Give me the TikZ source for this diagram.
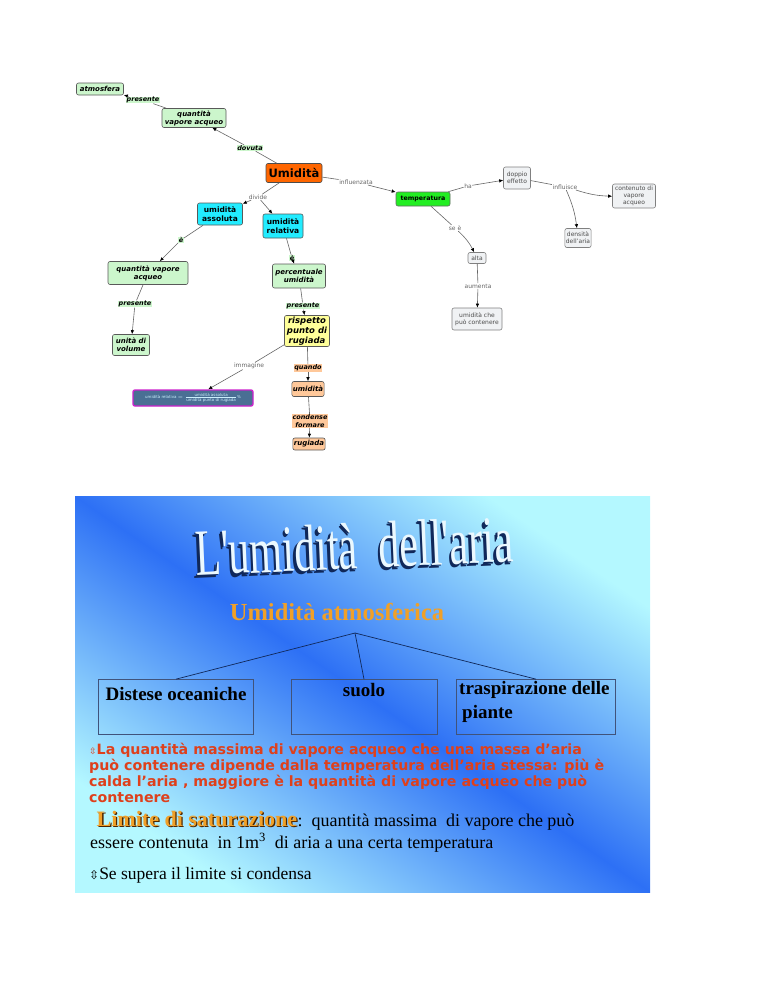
\documentclass[tikz,border=0pt]{standalone}
\usepackage{fontspec}
\usepackage{graphicx}
\setmainfont{Liberation Serif}
\setsansfont{DejaVu Sans}
\newfontfamily\bulletfont{DejaVu Sans}
\newfontfamily\titlefont{Liberation Serif}[Ligatures=TeXOff]
\usetikzlibrary{arrows.meta,positioning}

\definecolor{mapgreen}{RGB}{204,246,204}
\definecolor{mapcyan}{RGB}{34,236,255}
\definecolor{maporange}{RGB}{255,102,0}
\definecolor{maplime}{RGB}{34,238,34}
\definecolor{mapgray}{RGB}{240,242,244}
\definecolor{mapyellow}{RGB}{255,255,153}
\definecolor{mappeach}{RGB}{255,200,154}
\definecolor{mapslate}{RGB}{74,111,148}
\definecolor{mapmagenta}{RGB}{204,34,204}
\definecolor{slideblue}{RGB}{45,112,245}
\definecolor{slidelight}{RGB}{180,248,255}
\definecolor{titlenavy}{RGB}{16,40,90}
\definecolor{headorange}{RGB}{240,160,40}
\definecolor{notered}{RGB}{222,64,28}

% word art: navy extrusion under a light face, all in one box
\newcommand{\artlayer}[3]{\makebox[0pt][l]{\hspace{#1}\raisebox{#2}{\textcolor{titlenavy}{#3}}}}
\newcommand{\wordart}[1]{\artlayer{-4pt}{-3pt}{#1}\artlayer{-2pt}{-1.5pt}{#1}\textcolor{white!92!cyan}{#1}}

\tikzset{
  concept/.style={draw=gray!70!black, rounded corners=2pt, line width=0.6pt, align=center, inner sep=1pt,
    font=\sffamily\bfseries\itshape\fontsize{7}{8}\selectfont},
  greenbox/.style={concept, fill=mapgreen},
  cyanbox/.style={concept, fill=mapcyan, font=\sffamily\bfseries\fontsize{7.5}{9}\selectfont},
  graybox/.style={concept, fill=mapgray, draw=gray, font=\sffamily\fontsize{6}{7}\selectfont, text=black!70},
  peachbox/.style={concept, fill=mappeach},
  link/.style={inner sep=0.5pt, font=\sffamily\fontsize{6}{7}\selectfont, text=black!60},
  greenlink/.style={link, fill=mapgreen, text=black, font=\sffamily\bfseries\itshape\fontsize{6.5}{7.5}\selectfont},
  peachlink/.style={greenlink, fill=mappeach, align=center},
  conn/.style={draw=gray!80!black, line width=0.6pt},
  arr/.style={conn, -{Latex[length=4pt,width=3.5pt,color=black]}},
  slidebox/.style={draw=titlenavy!80, line width=0.7pt, minimum height=55pt},
  boxtext/.style={font=\bfseries\fontsize{19}{21}\selectfont, text=black, inner sep=0pt},
  titletext/.style={rotate=2.5, anchor=base, inner sep=0pt, text depth=0pt,
    font=\titlefont\fontsize{66}{66}\selectfont},
}

\begin{document}
\begin{tikzpicture}[x=1pt,y=-1pt]
\useasboundingbox (0,0) rectangle (768,994);

% concept map: upper branch
\node[greenbox, minimum width=47pt, minimum height=12pt] (atm) at (100,89) {atmosfera};
\node[greenlink] (lpres1) at (143,100) {presente};
\node[greenbox, minimum width=64pt, minimum height=19pt] (qva1) at (194,118) {quantità\\vapore acqueo};
\node[greenlink] (ldov) at (250,148) {dovuta};
\node[concept, fill=maporange, draw=black!70, font=\sffamily\bfseries\fontsize{11.5}{13}\selectfont,
  minimum width=56pt, minimum height=19pt] (umi) at (294,173) {Umidità};

% temperatura branch
\node[link] (linf) at (356,182) {influenzata};
\node[concept, fill=maplime, draw=black!60, font=\sffamily\bfseries\fontsize{6.3}{7.5}\selectfont,
  minimum width=54pt, minimum height=14pt] (temp) at (423,199) {temperatura};
\node[link] (lha) at (468,186) {ha};
\node[graybox, minimum width=27pt, minimum height=22pt] (doppio) at (517,178) {doppio\\effetto};
\node[link] (linfl) at (565,187) {influisce};
\node[graybox, minimum width=43pt, minimum height=24pt] (cont) at (634,196) {contenuto di\\vapore\\acqueo};
\node[graybox, minimum width=25pt, minimum height=19pt] (dens) at (578,238) {densità\\dell'aria};
\node[link] (lse) at (455,228) {se è};
\node[graybox, minimum width=18pt, minimum height=11pt] (alta) at (477,258) {alta};
\node[link] (laum) at (478,286) {aumenta};
\node[graybox, minimum width=50pt, minimum height=22pt] (ucpc) at (477,319) {umidità che\\può contenere};

% assoluta / relativa
\node[link] (ldiv) at (258,197) {divide};
\node[cyanbox, minimum width=45pt, minimum height=22pt] (uass) at (220,214) {umidità\\assoluta};
\node[cyanbox, minimum width=40pt, minimum height=24pt] (urel) at (283,226) {umidità\\relativa};
\node[greenlink] (le1) at (181,240) {è};
\node[greenbox, minimum width=80pt, minimum height=23pt] (qva2) at (148,273) {quantità vapore\\acqueo};
\node[greenlink] (lpres2) at (135,304) {presente};
\node[greenbox, minimum width=37pt, minimum height=21pt] (uvol) at (131,345) {unità di\\volume};
\node[greenlink] (le2) at (292,258) {è};
\node[greenbox, minimum width=53pt, minimum height=24pt] (perc) at (299,276) {percentuale\\umidità};
\node[greenlink] (lpres3) at (303,306) {presente};
\node[concept, fill=mapyellow, font=\sffamily\bfseries\itshape\fontsize{8.5}{10}\selectfont,
  minimum width=45pt, minimum height=31pt] (risp) at (307,331) {rispetto\\punto di\\rugiada};
\node[link] (limm) at (249,366) {immagine};
\node[peachlink] (lqua) at (308,368) {quando};
\node[concept, fill=mapslate, draw=mapmagenta, line width=1.4pt, minimum width=120pt, minimum height=16pt,
  font=\sffamily\fontsize{4}{4.5}\selectfont, text=white!80!cyan] (formula) at (193,398)
  {umidità relativa $=\frac{\hbox{umidità assoluta}}{\hbox{umidità punto di rugiada}}$\%};
\node[peachbox, minimum width=29pt, minimum height=15pt] (umi2) at (308,389) {umidità};
\node[peachlink] (lcond) at (310,421) {condense\\formare};
\node[peachbox, minimum width=28pt, minimum height=12pt] (rug) at (309,444) {rugiada};

% connectors
\draw[conn] (qva1) -- (lpres1);
\draw[arr] (lpres1) -- (atm);
\draw[conn] (umi) -- (ldov);
\draw[arr] (ldov) -- (qva1);
\draw[conn] (umi) -- (linf);
\draw[arr] (linf) -- (temp);
\draw[conn] (temp) -- (lha);
\draw[arr] (lha) -- (doppio);
\draw[conn] (doppio) -- (linfl);
\draw[arr] (linfl) to[bend right=8] (cont);
\draw[arr] (linfl) to[bend left=8] (dens);
\draw[conn] (temp) -- (lse);
\draw[arr] (lse) to[bend left=10] (alta);
\draw[conn] (alta) -- (laum);
\draw[arr] (laum) -- (ucpc);
\draw[conn] (umi) -- (ldiv);
\draw[arr] (ldiv) -- (uass);
\draw[arr] (ldiv) -- (urel);
\draw[conn] (uass) -- (le1);
\draw[arr] (le1) -- (qva2);
\draw[conn] (qva2) -- (lpres2);
\draw[arr] (lpres2) -- (uvol);
\draw[conn] (urel) -- (le2);
\draw[arr] (le2) -- (perc);
\draw[conn] (perc) -- (lpres3);
\draw[arr] (lpres3) -- (risp);
\draw[conn] (risp) -- (limm);
\draw[arr] (limm) -- (formula);
\draw[conn] (risp) -- (lqua);
\draw[arr] (lqua) -- (umi2);
\draw[conn] (umi2) -- (lcond);
\draw[arr] (lcond) -- (rug);

% slide background
\shade[top color=slidelight, bottom color=slidelight, middle color=slideblue, shading angle=-34.5]
  (75,496) rectangle (650,892);

% title
\node[titletext] (title) at (355,568.5) {\scalebox{0.64}[1]{\wordart{L'umidità\ \ dell'aria}}};

\node[text=headorange, font=\bfseries\fontsize{24.5}{26}\selectfont, inner sep=0pt] (head) at (337,612) {Umidità atmosferica};
\coordinate (apex) at (355,633);

% three sources
\node[slidebox, minimum width=155pt] (box1) at (176,707) {};
\node[slidebox, minimum width=146pt] (box2) at (364,707) {};
\node[slidebox, minimum width=159pt] (box3) at (536,707) {};
\node[boxtext] (distese) at (176,694) {Distese oceaniche};
\node[boxtext] (suolo) at (364,690) {suolo};
\node[boxtext, anchor=west] (trasp) at (459,690) {traspirazione delle};
\node[boxtext, anchor=west] (piante) at (462,714) {piante};
\draw[titlenavy, line width=0.7pt] (apex) -- (box1.north);
\draw[titlenavy, line width=0.7pt] (apex) -- (box2.north);
\draw[titlenavy, line width=0.7pt] (apex) -- (box3.north);

% notes
\node[anchor=north west, inner sep=0pt, align=left, text=notered,
  font=\sffamily\bfseries\fontsize{14.2}{16}\selectfont] (note) at (89,743)
  {{\bulletfont\mdseries\fontsize{9}{9}\selectfont ⇳}La quantità massima di vapore acqueo che una massa d’aria\\
   può contenere dipende dalla temperatura dell’aria stessa: più è\\
   calda l’aria , maggiore è la quantità di vapore acqueo che può\\
   contenere};
\node[anchor=base west, inner sep=0pt, font=\bfseries\fontsize{22}{24}\selectfont] (limword) at (96.5,826)
  {\makebox[0pt][l]{\hspace{1.3pt}\raisebox{-1pt}{\textcolor{black!70!orange}{Limite di saturazione}}}\textcolor{headorange}{Limite di saturazione}};
\node[anchor=base west, inner sep=0pt, font=\fontsize{18}{20}\selectfont] (limrest) at (limword.base east)
  {:\ \ quantità massima\ \ di vapore che può};
\node[anchor=base west, inner sep=0pt, font=\fontsize{18}{20}\selectfont] (essere) at (90,848)
  {essere contenuta\ \ in 1m\textsuperscript{3}\ \ di aria a una certa temperatura};
\node[anchor=base west, inner sep=0pt, font=\fontsize{17.5}{20}\selectfont] (supera) at (89,879)
  {{\bulletfont\fontsize{12}{12}\selectfont ⇳}Se supera il limite si condensa};

\end{tikzpicture}
\end{document}
